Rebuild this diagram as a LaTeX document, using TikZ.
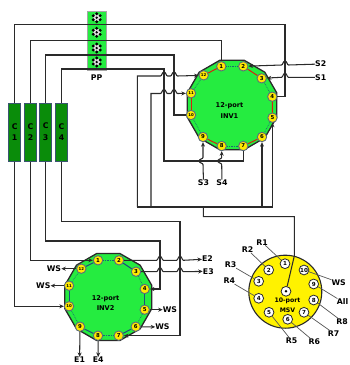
\documentclass[tikz,border=0pt]{standalone}
\usepackage{fontspec}
\setmainfont{DejaVu Sans}
\usetikzlibrary{arrows.meta}
\definecolor{wirec}{HTML}{2A2A2A}
\definecolor{polyg}{HTML}{25EC40}
\definecolor{colg}{HTML}{0A8C0A}
\definecolor{colb}{HTML}{3A5570}
\definecolor{portb}{HTML}{5C6C7C}
\definecolor{portf}{HTML}{FFE900}
\definecolor{linkr}{HTML}{D8200F}
\definecolor{linkd}{HTML}{1A6A70}
\definecolor{linkb}{HTML}{1F4E79}
\newcommand{\hoph}[2]{-- ({#1-3.5},#2) .. controls ({#1-2},#2) and ({#1-2},{#2-4}) .. (#1,{#2-4}) .. controls ({#1+2},{#2-4}) and ({#1+2},#2) .. ({#1+3.5},#2)}
\newcommand{\hopv}[2]{-- (#1,{#2-3.5}) .. controls (#1,{#2-2}) and ({#1-4},{#2-2}) .. ({#1-4},#2) .. controls ({#1-4},{#2+2}) and (#1,{#2+2}) .. (#1,{#2+3.5})}
\tikzset{
  wire/.style={draw=wirec,line width=1.05pt},
  arr/.style={wire,-{Stealth[length=4.5pt,width=4pt]}},
  rarr/.style={wire,{Stealth[length=4.5pt,width=4pt]}-},
  poly/.style={draw=wirec,line width=1.3pt,fill=polyg,line join=miter},
  porta/.style={circle,minimum size=9.4pt,inner sep=0pt,draw=portb,line width=0.9pt,fill=portf,font=\bfseries\fontsize{5.4}{6}\selectfont},
  portsm/.style={porta,font=\bfseries\fontsize{3.9}{4}\selectfont},
  portm/.style={circle,minimum size=9.8pt,inner sep=0pt,draw=wirec,line width=0.8pt,fill=white,font=\bfseries\fontsize{5.6}{6}\selectfont},
  lab/.style={inner sep=0pt,font=\bfseries\fontsize{7.8}{9}\selectfont},
  ins/.style={inner sep=0pt,align=center,font=\bfseries\fontsize{6.6}{10.8}\selectfont},
  col/.style={draw=colb,line width=1pt,fill=colg,minimum width=12.5pt,minimum height=58pt,inner sep=0pt,align=center,font=\bfseries\fontsize{7.8}{11.7}\selectfont},
  rline/.style={draw=wirec!80,line width=0.7pt},
  lred/.style={draw=linkr,line width=1pt},
  ldot/.style={draw=linkd,line width=0.7pt,densely dotted},
  lblu/.style={draw=linkb,line width=1pt},
}
\begin{document}
\begin{tikzpicture}[x=1pt,y=-1pt]
\useasboundingbox (0,0) rectangle (349,365);
% pinch points
\node[draw=gray!70,line width=0.7pt,fill=polyg,minimum width=18.7pt,minimum height=59.7pt,inner sep=0pt] (pp) at (96.7,40.8) {};
\foreach \g in {17.7,32.3,48,62}{
  \begin{scope}[shift={(96.7,\g)}]
    \fill[gray!25] (0,0) circle (3.8pt);
    \foreach \a in {30,90,150,210,270,330}
      \fill[black] ({4*cos(\a)},{4*sin(\a)}) circle (1.6pt);
    \fill[black] (0,0) circle (1.3pt);
  \end{scope}
}
\node[lab] (pplab) at (96.7,77.7) {PP};
% columns
\node[col] (c1) at (14.7,132) {C\\1};
\node[col] (c2) at (30.5,132) {C\\2};
\node[col] (c3) at (45.7,132) {C\\3};
\node[col] (c4) at (61.5,132) {C\\4};
% valves
\draw[poly] plot[samples at={15,45,...,345}] ({232+46.4*cos(\x)},{105+46.4*sin(\x)}) -- cycle;
\draw[poly] plot[samples at={15,45,...,345}] ({108.3+45*cos(\x)},{297+45*sin(\x)}) -- cycle;
\node[ins] (t1) at (229.5,110.5) {12-port\\INV1};
\node[ins] (t2) at (105.6,303) {12-port\\INV2};
\foreach \i/\x/\y in {1/221.3/66.3,2/243.3/66.3,3/261.7/78.3,4/272.3/96.7,5/272.5/117.7,6/262/137,7/243.3/146,8/221.7/146,9/203/137}
  \node[porta] (a\i) at (\x,\y) {\i};
\foreach \i/\x/\y in {10/191/115,11/191/93.3,12/203.7/75.3}
  \node[portsm] (a\i) at (\x,\y) {\i};
\foreach \i/\x/\y in {1/98/260.3,2/119/260.3,3/136/271.7,4/144.7/289,5/144.7/309.7,6/135.7/326.7,7/118.7/335.7,8/98/335.7,9/80/326.7}
  \node[porta] (b\i) at (\x,\y) {\i};
\foreach \i/\x/\y in {10/69/306.3,11/69/285.7,12/81.3/268.7}
  \node[portsm] (b\i) at (\x,\y) {\i};
% internal links
\foreach \p/\q in {12/1,2/3,4/5,6/7,8/9,10/11} \draw[lred] (a\p) -- (a\q);
\foreach \p/\q in {1/2,3/4,5/6,7/8,9/10,11/12} \draw[ldot] (a\p) -- (a\q);
\foreach \p/\q in {12/1,2/3,4/5,6/7,8/9,10/11} \draw[lblu] (b\p) -- (b\q);
\foreach \p/\q in {1/2,3/4,5/6,7/8,9/10,11/12} \draw[ldot] (b\p) -- (b\q);
% MSV
\node[circle,draw=wirec,line width=1.1pt,fill=yellow,minimum size=73pt,inner sep=0pt] (msv) at (285.3,291.7) {};
\foreach \i/\x/\y in {1/285/263.7,2/268.7/270,3/258.7/281.3,4/258.7/298.3,5/269/312.3,6/287.7/319.3,7/304/312.3,8/313.7/300,9/313.7/284,10/304/270}
  \node[portm] (m\i) at (\x,\y) {\i};
\node[portm] (m0) at (286,291.3) {};
\fill[black] (m0.center) circle (1.4pt);
\node[inner sep=0pt,align=center,font=\bfseries\fontsize{6.2}{9.4}\selectfont] (t3) at (287.5,305.4) {10-port\\MSV};
% labels
\node[lab] (s2) at (320.7,64) {S2};
\node[lab] (s1) at (320.7,77.3) {S1};
\node[lab] (s3) at (203.5,182.7) {S3};
\node[lab] (s4) at (222,182.7) {S4};
\node[lab] (e2) at (207.5,259) {E2};
\node[lab] (e3) at (208.3,271.3) {E3};
\node[lab] (e1) at (79.6,360) {E1};
\node[lab] (e4) at (98.3,360) {E4};
\node[lab] (ws1) at (54,268.7) {WS};
\node[lab] (ws2) at (43.3,285.7) {WS};
\node[lab] (ws3) at (170,309.7) {WS};
\node[lab] (ws4) at (162.5,327) {WS};
\node[lab] (r1) at (262,242.3) {R1};
\node[lab] (r2) at (247.7,249.7) {R2};
\node[lab] (r3) at (230.7,265) {R3};
\node[lab] (r4) at (229.3,281) {R4};
\node[lab] (r5) at (291.7,340.7) {R5};
\node[lab] (r6) at (314.3,341.7) {R6};
\node[lab] (r7) at (333.7,333.3) {R7};
\node[lab] (r8) at (342,321.3) {R8};
\node[lab] (all) at (342.5,301.7) {All};
\node[lab] (ws5) at (338.7,282.3) {WS};
\foreach \p/\q in {m1/r1,m2/r2,m3/r3,m4/r4,m5/r5,m6/r6,m7/r7,m8/r8,m9/all,m10/ws5}
  \draw[rline] (\p) -- (\q);
% bend points
\coordinate (w1) at (285,24.5);
\coordinate (w1b) at (285,96.7);
\coordinate (w2) at (221.3,40.7);
\coordinate (w3) at (174,55);
\coordinate (w3b) at (174,115);
\coordinate (w4) at (164,69);
\coordinate (w4b) at (164,161);
\coordinate (h1) at (137.3,207);
\coordinate (h2) at (151,207);
\coordinate (jm) at (203.3,207);
\coordinate (j6) at (262,207);
\coordinate (j5) at (272.5,207);
\coordinate (mm1) at (203.3,216.7);
\coordinate (mm2) at (294.3,216.7);
\coordinate (mm3) at (294.3,256);
\coordinate (l3) at (160,241);
\coordinate (l3b) at (160,289);
\coordinate (l4) at (180,221.7);
\coordinate (l4b) at (180,335.7);
% column top connections
\draw[wire] (c1.north) |- (w1) -- (w1b) -- (a4);
\draw[wire] (c2.north) |- (w2) -- (a1);
\draw[wire] (c3.north) |- (w3) -- (w3b) -- (a10);
\draw[wire] (c4.north) |- (w4) -- (w4b) -| (a7);
% column bottom connections
\draw[arr] (c1.south) |- (b10);
\draw[arr] (c2.south) |- (b1);
\draw[arr] (c3.south) |- (l3) -- (l3b) -- (b4);
\draw[arr] (c4.south) |- (l4) -- (l4b) -- (b7);
% bus to INV1 and MSV
\draw[wire] (h1) -- (j5);
\draw[arr] (j5) -- (a5);
\draw[arr] (j6) -- (a6);
\draw[arr] (h1) -- (137.3,76) \hoph{164}{76} \hoph{174}{76} -- (a12);
\draw[arr] (h2) -- (151,93.5) \hoph{164}{93.5} \hoph{174}{93.5} -- (a11);
\draw[wire] (jm) -- (mm1) -- (mm2) -- (mm3) -- (m0);
% feeds
\draw[rarr] (a2) \hoph{285}{65} -- (s2);
\draw[rarr] (a3) \hoph{285}{77.3} -- (s1);
\draw[rarr] (a9) \hopv{203}{161} -- (s3);
\draw[rarr] (a8) \hopv{221.7}{161} -- (s4);
\draw[arr] (b2) \hoph{160}{260.3} \hoph{180}{260.3} -- (e2);
\draw[arr] (b3) \hoph{160}{271.7} \hoph{180}{271.7} -- (e3);
\draw[arr] (b12) -- (ws1);
\draw[arr] (b11) -- (ws2);
\draw[arr] (b5) -- (ws3);
\draw[arr] (b6) -- (ws4);
\draw[arr] (b9) -- (e1);
\draw[arr] (b8) -- (e4);
\end{tikzpicture}
\end{document}
